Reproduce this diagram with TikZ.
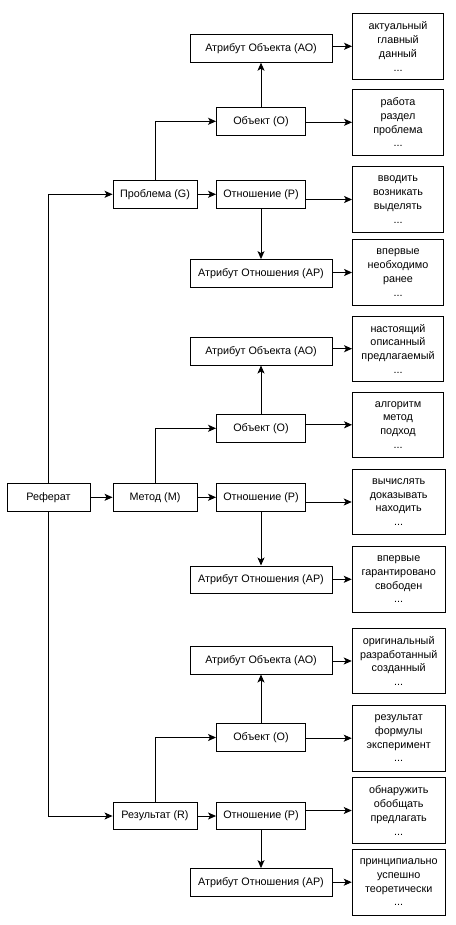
\documentclass[tikz,border=0pt]{standalone}
\usepackage{fontspec}
\setmainfont{Liberation Sans}
\usetikzlibrary{arrows.meta, positioning}

\begin{document}
\begin{tikzpicture}[x=1pt, y=-1pt,
    every node/.style={font=\fontsize{10.8}{13.8}\selectfont},
    box/.style={draw, line width=0.9pt, inner sep=0pt, minimum height=27.5pt},
    words/.style={draw, line width=0.9pt, inner sep=0pt, align=center, minimum width=91pt, minimum height=65.5pt},
    arr/.style={line width=0.9pt, -{Stealth[length=8pt, width=7pt, inset=2pt]}}]
    \useasboundingbox (0,0) rectangle (455,925);
    \node[box, minimum width=83pt] (ref) at (48.5,497.3) {Реферат};

    \node[box, minimum width=84pt] (g) at (155,194.3) {Проблема (G)};
    \node[box, minimum width=89pt] (gp) at (261,194.3) {Отношение (Р)};
    \node[box, minimum width=89pt] (go) at (261,121.3) {Объект (О)};
    \node[box, minimum width=142pt] (gao) at (261,48.5) {Атрибут Объекта (АО)};
    \node[box, minimum width=142pt] (gap) at (261,273.3) {Атрибут Отношения (АР)};
    \node[words] (gw1) at (398,46.3) {актуальный\\главный\\данный\\...};
    \node[words] (gw2) at (398,122.3) {работа\\раздел\\проблема\\...};
    \node[words] (gw3) at (398,199.5) {вводить\\возникать\\выделять\\...};
    \node[words] (gw4) at (398,272.5) {впервые\\необходимо\\ранее\\...};

    \node[box, minimum width=84pt] (m) at (155,497.3) {Метод (M)};
    \node[box, minimum width=89pt] (mp) at (261,497.3) {Отношение (Р)};
    \node[box, minimum width=89pt] (mo) at (261,428.3) {Объект (О)};
    \node[box, minimum width=142pt] (mao) at (261,351.3) {Атрибут Объекта (АО)};
    \node[box, minimum width=142pt] (map) at (261,579.7) {Атрибут Отношения (АР)};
    \node[words] (mw1) at (398,348.7) {настоящий\\описанный\\предлагаемый\\...};
    \node[words] (mw2) at (398,424.8) {алгоритм\\метод\\подход\\...};
    \node[words, minimum width=93pt] (mw3) at (398.7,502) {вычислять\\доказывать\\находить\\...};
    \node[words, minimum width=93pt] (mw4) at (398.7,579.3) {впервые\\гарантировано\\свободен\\...};

    \node[box, minimum width=84pt] (r) at (155,816) {Результат (R)};
    \node[box, minimum width=89pt] (rp) at (261,816) {Отношение (Р)};
    \node[box, minimum width=89pt] (ro) at (261,737.5) {Объект (О)};
    \node[box, minimum width=142pt] (rao) at (261,660.3) {Атрибут Объекта (АО)};
    \node[box, minimum width=142pt] (rap) at (261,882.3) {Атрибут Отношения (АР)};
    \node[words, minimum width=93pt] (rw1) at (398.7,661) {оригинальный\\разработанный\\созданный\\...};
    \node[words, minimum width=93pt] (rw2) at (398.7,738.2) {результат\\формулы\\эксперимент\\...};
    \node[words, minimum width=93pt] (rw3) at (398.7,810.5) {обнаружить\\обобщать\\предлагать\\...};
    \node[words, minimum width=93pt] (rw4) at (398.7,882.2) {принципиально\\успешно\\теоретически\\...};

    \draw[arr] (ref.north) |- (g.west);
    \draw[arr] (ref) -- (m);
    \draw[arr] (ref.south) |- (r.west);

    \draw[arr] (g.north) |- (go.west);
    \draw[arr] (g) -- (gp);
    \draw[arr] (go) -- (gao);
    \draw[arr] (gp) -- (gap);
    \draw[arr] (gao.east |- gw1) -- (gw1.west);
    \draw[arr] (go.east |- gw2) -- (gw2.west);
    \draw[arr] (gp.east |- gw3) -- (gw3.west);
    \draw[arr] (gap.east |- gw4) -- (gw4.west);

    \draw[arr] (m.north) |- (mo.west);
    \draw[arr] (m) -- (mp);
    \draw[arr] (mo) -- (mao);
    \draw[arr] (mp) -- (map);
    \draw[arr] (mao.east |- mw1) -- (mw1.west);
    \draw[arr] (mo.east |- mw2) -- (mw2.west);
    \draw[arr] (mp.east |- mw3) -- (mw3.west);
    \draw[arr] (map.east |- mw4) -- (mw4.west);

    \draw[arr] (r.north) |- (ro.west);
    \draw[arr] (r) -- (rp);
    \draw[arr] (ro) -- (rao);
    \draw[arr] (rp) -- (rap);
    \draw[arr] (rao.east |- rw1) -- (rw1.west);
    \draw[arr] (ro.east |- rw2) -- (rw2.west);
    \draw[arr] (rp.east |- rw3) -- (rw3.west);
    \draw[arr] (rap.east |- rw4) -- (rw4.west);
\end{tikzpicture}
\end{document}
